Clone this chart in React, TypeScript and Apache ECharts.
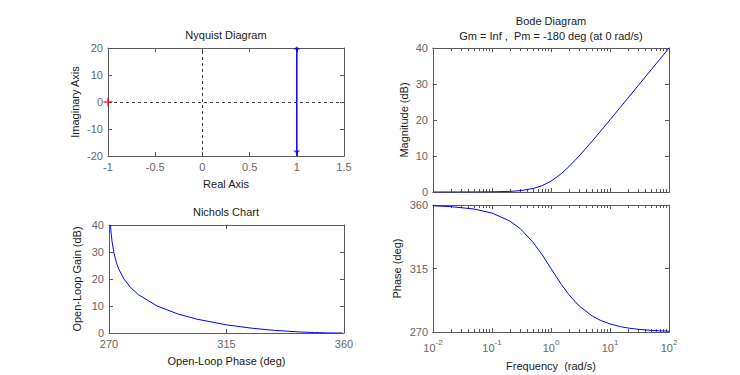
import React, { useEffect, useRef } from 'react';
import * as echarts from 'echarts';

// ---- data ----
const freq = [0.01, 0.02, 0.05, 0.1, 0.2, 0.3, 0.5, 0.7, 1, 1.5, 2, 3, 5, 7, 10, 15, 20, 30, 50, 70, 100];
const magDb = [0.0, 0.0, 0.01, 0.04, 0.17, 0.37, 0.97, 1.74, 3.01, 5.12, 6.99, 10.0, 14.15, 17.0, 20.04, 23.55, 26.03, 29.55, 33.98, 36.9, 40.0];
const phaseDeg = [359.43, 358.85, 357.14, 354.29, 348.69, 343.3, 333.43, 325.0, 315.0, 303.7, 296.57, 288.43, 281.31, 278.13, 275.71, 273.81, 272.86, 271.91, 271.15, 270.82, 270.57];

const nyquistRe = [1, 1];
const nyquistIm = [-20, 20];
const nyquistArrowIm = [20, -18.5];
const criticalPoint = [-1, 0];

const nyqXTicks = { min: -1, max: 1.5, interval: 0.5 };
const nyqYTicks = { min: -20, max: 20, interval: 10 };
const nicholsXTicks = { min: 270, max: 360, interval: 45 };
const gainTicks = { min: 0, max: 40, interval: 10 };
const phaseTicks = { min: 270, max: 360, interval: 45 };
const freqMajor = [0.01, 0.1, 1, 10, 100];
const freqMinor: number[] = [];
[0.01, 0.1, 1, 10].forEach((d) => {
  for (let k = 2; k <= 9; k++) freqMinor.push(+(d * k).toPrecision(3));
});

const titles = {
  nyquist: 'Nyquist Diagram',
  nichols: 'Nichols Chart',
  bode: 'Bode Diagram',
  margins: 'Gm = Inf ,  Pm = -180 deg (at 0 rad/s)',
};

// ---- styling ----
const FONT = 'Liberation Sans, Arial, Helvetica, sans-serif';
const AXC = '#595959';
const LBL = '#666666';
const TXT = '#1a1a1a';
const BLUE = '#0000ff';

const labelStyle = { color: LBL, fontSize: 11, fontFamily: FONT };
const nameStyle = { color: TXT, fontSize: 11, fontFamily: FONT };

function valAxis(grid: number, pos: string, range: any, opts: any = {}) {
  const showLabel = opts.label !== false;
  return {
    type: 'value',
    gridIndex: grid,
    position: pos,
    min: range.min,
    max: range.max,
    interval: range.interval,
    axisLine: { show: true, onZero: false, lineStyle: { color: AXC, width: 1 } },
    axisTick: { show: true, inside: true, length: 4, lineStyle: { color: AXC } },
    axisLabel: { show: showLabel, margin: 5, ...labelStyle },
    splitLine: { show: false },
    name: opts.name,
    nameLocation: 'middle',
    nameGap: opts.nameGap,
    nameTextStyle: nameStyle,
  };
}

function logAxis(grid: number, pos: string, ticks: number[], len: number, opts: any = {}) {
  return {
    type: 'log',
    logBase: 10,
    gridIndex: grid,
    position: pos,
    min: 0.01,
    max: 100,
    axisLine: { show: true, onZero: false, lineStyle: { color: AXC, width: 1 } },
    axisTick: { show: true, inside: true, length: len, customValues: ticks, lineStyle: { color: AXC } },
    axisLabel: opts.label
      ? {
          show: true,
          margin: 6,
          customValues: freqMajor,
          formatter: (v: number) => `{b|10}{s|${Math.round(Math.log10(v))}}`,
          rich: {
            b: { fontSize: 11, color: LBL, fontFamily: FONT, verticalAlign: 'bottom' },
            s: { fontSize: 8, color: LBL, fontFamily: FONT, verticalAlign: 'bottom', padding: [0, 0, 7, 0] },
          },
        }
      : { show: false },
    splitLine: { show: false },
    name: opts.name,
    nameLocation: 'middle',
    nameGap: opts.nameGap,
    nameTextStyle: nameStyle,
  };
}

function titleText(text: string, x: number, y: number) {
  return {
    type: 'text',
    x,
    y,
    style: { text, fill: TXT, font: `11px ${FONT}`, textAlign: 'center', textVerticalAlign: 'top' },
  };
}

const option: any = {
  animation: false,
  backgroundColor: '#ffffff',
  grid: [
    { left: 108, top: 48, width: 236, height: 108 },
    { left: 109, top: 225, width: 235, height: 108 },
    { left: 433, top: 48, width: 236, height: 144 },
    { left: 433, top: 205, width: 236, height: 127 },
  ],
  xAxis: [
    valAxis(0, 'bottom', nyqXTicks, { name: 'Real Axis', nameGap: 22 }),
    valAxis(0, 'top', nyqXTicks, { label: false }),
    valAxis(1, 'bottom', nicholsXTicks, { name: 'Open-Loop Phase (deg)', nameGap: 22 }),
    valAxis(1, 'top', nicholsXTicks, { label: false }),
    logAxis(2, 'bottom', freqMajor, 4),
    logAxis(2, 'bottom', freqMinor, 3),
    logAxis(2, 'top', freqMajor, 4),
    logAxis(2, 'top', freqMinor, 3),
    logAxis(3, 'bottom', freqMajor, 4, { label: true, name: 'Frequency  (rad/s)', nameGap: 28 }),
    logAxis(3, 'bottom', freqMinor, 3),
    logAxis(3, 'top', freqMajor, 4),
    logAxis(3, 'top', freqMinor, 3),
  ],
  yAxis: [
    valAxis(0, 'left', nyqYTicks, { name: 'Imaginary Axis', nameGap: 28 }),
    valAxis(0, 'right', nyqYTicks, { label: false }),
    valAxis(1, 'left', gainTicks, { name: 'Open-Loop Gain (dB)', nameGap: 27 }),
    valAxis(1, 'right', gainTicks, { label: false }),
    valAxis(2, 'left', gainTicks, { name: 'Magnitude (dB)', nameGap: 24 }),
    valAxis(2, 'right', gainTicks, { label: false }),
    valAxis(3, 'left', phaseTicks, { name: 'Phase (deg)', nameGap: 31 }),
    valAxis(3, 'right', phaseTicks, { label: false }),
  ],
  graphic: [
    titleText(titles.nyquist, 226, 29),
    titleText(titles.nichols, 226, 206),
    titleText(titles.bode, 551, 15),
    titleText(titles.margins, 551, 30),
  ],
  series: [
    {
      type: 'line',
      xAxisIndex: 0,
      yAxisIndex: 0,
      data: nyquistRe.map((r, i) => [r, nyquistIm[i]]),
      showSymbol: false,
      lineStyle: { color: BLUE, width: 1.5 },
      z: 3,
      markLine: {
        silent: true,
        symbol: ['none', 'none'],
        label: { show: false },
        lineStyle: { type: [3, 3], color: '#444444', width: 1 },
        data: [{ xAxis: 0 }, { yAxis: 0 }],
      },
    },
    {
      type: 'scatter',
      xAxisIndex: 0,
      yAxisIndex: 0,
      data: [
        { value: [nyquistRe[0], nyquistArrowIm[0]], symbolRotate: 0 },
        { value: [nyquistRe[1], nyquistArrowIm[1]], symbolRotate: 180 },
      ],
      symbol: 'triangle',
      symbolSize: [7, 3],
      itemStyle: { color: BLUE },
      z: 4,
    },
    {
      type: 'scatter',
      xAxisIndex: 0,
      yAxisIndex: 0,
      data: [criticalPoint],
      symbol: 'path://M0,5L10,5M5,0L5,10',
      symbolSize: 9,
      itemStyle: { color: 'none', borderColor: '#ff0000', borderWidth: 1.5 },
      z: 5,
    },
    {
      type: 'line',
      xAxisIndex: 2,
      yAxisIndex: 2,
      data: phaseDeg.map((p, i) => [p, magDb[i]]),
      showSymbol: false,
      lineStyle: { color: BLUE, width: 1 },
    },
    {
      type: 'line',
      xAxisIndex: 4,
      yAxisIndex: 4,
      data: freq.map((f, i) => [f, magDb[i]]),
      showSymbol: false,
      lineStyle: { color: BLUE, width: 1 },
    },
    {
      type: 'line',
      xAxisIndex: 8,
      yAxisIndex: 6,
      data: freq.map((f, i) => [f, phaseDeg[i]]),
      showSymbol: false,
      lineStyle: { color: BLUE, width: 1 },
    },
  ],
};

export default function App() {
  const ref = useRef<HTMLDivElement>(null);
  useEffect(() => {
    if (!ref.current) return;
    const chart = echarts.init(ref.current, null, { renderer: 'svg' });
    chart.setOption(option);
    return () => chart.dispose();
  }, []);
  return (
    <div
      ref={ref}
      style={{ position: 'absolute', left: 0, top: 0, width: 740, height: 375, background: '#fff' }}
    />
  );
}
